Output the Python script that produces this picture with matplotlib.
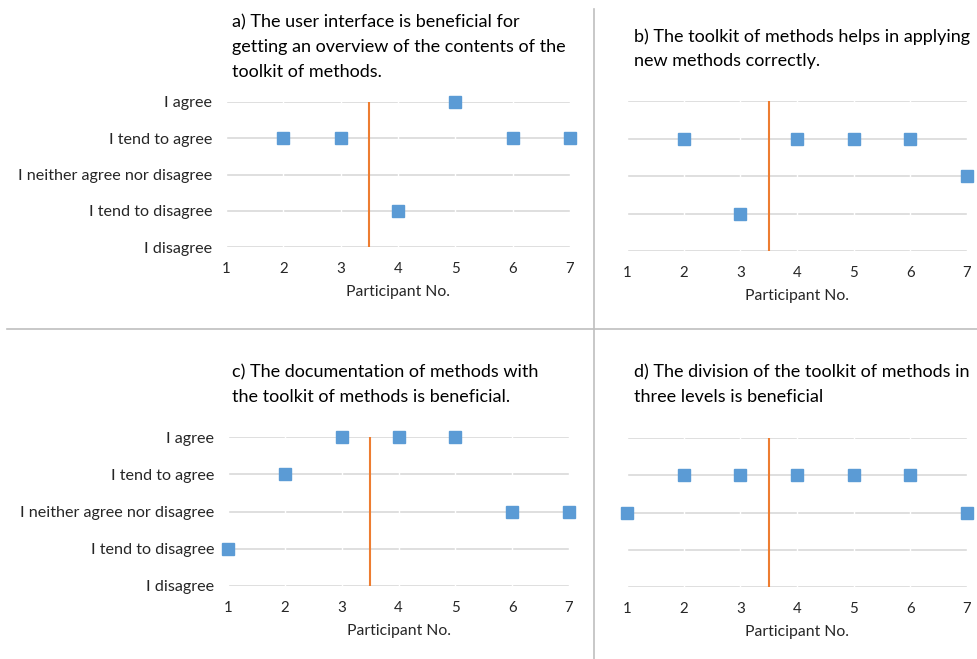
import matplotlib.pyplot as plt
import numpy as np

W, H = 977, 659

participants = [1, 2, 3, 4, 5, 6, 7]
levels = ['I disagree', 'I tend to disagree', 'I neither agree nor disagree',
          'I tend to agree', 'I agree']

# 1 = I disagree ... 5 = I agree, nan = no answer
resp_a = [np.nan, 4, 4, 2, 5, 4, 4]
resp_b = [np.nan, 4, 2, 4, 4, 4, 3]
resp_c = [2, 4, 5, 5, 5, 3, 3]
resp_d = [3, 4, 4, 4, 4, 4, 3]

title_a = 'a) The user interface is beneficial for\ngetting an overview of the contents of the\ntoolkit of methods.'
title_b = 'b) The toolkit of methods helps in applying\nnew methods correctly.'
title_c = 'c) The documentation of methods with\nthe toolkit of methods is beneficial.'
title_d = 'd) The division of the toolkit of methods in\nthree levels is beneficial'

split_x = 3.5   # orange divider between participant groups

blue = '#5B9BD5'
orange = '#ED7D31'
grid_col = '#D9D9D9'
txt_col = '#262626'

plt.rcParams['font.family'] = ['Lato', 'DejaVu Sans']

fig = plt.figure(figsize=(W / 100, H / 100), dpi=100)


def px_axes(x0, y0, x1, y1):
    return fig.add_axes([x0 / W, 1 - y1 / H, (x1 - x0) / W, (y1 - y0) / H])


def panel(box, resp, title, tpos, show_y):
    ax = px_axes(*box)
    ax.set_xlim(1, 7)
    ax.set_ylim(1, 5)
    for lv in range(1, 6):
        ax.plot([1, 7], [lv, lv], color=grid_col, lw=1.2, zorder=1)
    for p in participants:
        ax.plot([p, p], [1, 5], color='white', lw=1.0, zorder=1.5)
    ax.plot([split_x, split_x], [1, 5], color=orange, lw=1.5, zorder=2)
    ax.plot(participants, resp, 's', color=blue, markersize=9.2,
            clip_on=False, zorder=3)
    for s in ax.spines.values():
        s.set_visible(False)
    ax.set_xticks(participants)
    ax.set_yticks(range(1, 6))
    ax.tick_params(length=0, colors=txt_col, labelsize=10.8)
    ax.tick_params(axis='x', pad=11)
    ax.tick_params(axis='y', pad=10, labelsize=11.6)
    if show_y:
        ax.set_yticklabels(levels)
    else:
        ax.set_yticklabels([])
    ax.set_xlabel('Participant No.', fontsize=11.3, color=txt_col, labelpad=6)
    fig.text(tpos[0] / W, 1 - tpos[1] / H, title, fontsize=13, color='black',
             ha='left', va='top', linespacing=1.68)
    return ax


panel((226, 102, 570, 247), resp_a, title_a, (232, 14), True)
panel((627, 101, 967, 251), resp_b, title_b, (634, 28), False)
panel((228, 437, 569, 586), resp_c, title_c, (232, 364), True)
panel((627, 438, 967, 587), resp_d, title_d, (634, 364), False)

# separators between the four charts
fig.add_artist(plt.Line2D([593.5 / W, 593.5 / W], [0, 1 - 9 / H], color='#BFBFBF', lw=1.2))
fig.add_artist(plt.Line2D([7 / W, 1], [1 - 329 / H, 1 - 329 / H], color='#BFBFBF', lw=1.2))

fig.savefig('out.png', dpi=100)
